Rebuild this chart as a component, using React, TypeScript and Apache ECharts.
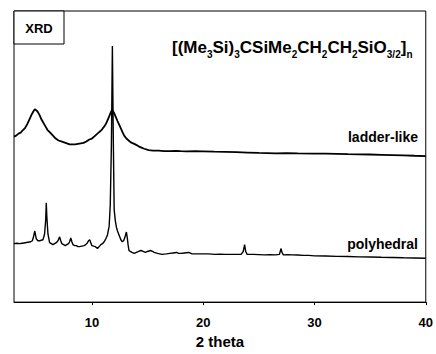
import React, { useEffect, useRef } from 'react';
import * as echarts from 'echarts';

const xTickValues = [10, 20, 30, 40];

const ladderLike: [number, number][] = [
  [3.0, 170], [3.2, 171], [3.4, 173], [3.6, 174], [3.83, 177], [4.0, 179], [4.2, 183],
  [4.4, 188], [4.6, 193], [4.75, 196], [4.87, 198], [5.0, 197], [5.1, 196], [5.3, 192],
  [5.45, 188], [5.6, 185], [5.8, 181], [6.0, 177], [6.25, 174], [6.5, 171], [6.75, 168],
  [7.0, 166], [7.25, 165], [7.5, 164], [7.75, 163], [8.0, 162], [8.25, 162], [8.5, 162],
  [8.75, 162.5], [9.0, 163], [9.25, 163.5], [9.5, 165], [9.77, 167], [10.0, 168],
  [10.2, 170], [10.4, 172], [10.6, 174], [10.8, 176], [10.95, 178], [11.15, 181],
  [11.3, 184], [11.45, 188], [11.6, 192], [11.7, 195], [11.8, 197], [11.9, 196],
  [12.0, 194], [12.15, 190], [12.3, 186], [12.5, 181], [12.73, 175], [12.9, 171],
  [13.1, 168], [13.3, 166], [13.5, 164], [13.7, 163], [13.9, 162], [14.2, 160],
  [14.4, 159], [14.7, 157.5], [15.1, 156], [15.5, 155.5], [16.0, 155.5], [16.5, 155],
  [17.0, 155], [17.5, 155.3], [18.0, 155], [18.5, 154.8], [19.3, 155], [20.0, 154.8],
  [21.0, 154.5], [22.0, 154.3], [23.0, 154], [24.0, 153.6], [25.0, 153.2], [26.5, 152.7],
  [27.5, 153], [28.5, 152.8], [30.0, 152.6], [31.0, 152.5], [32.0, 152.3], [33.0, 152],
  [34.0, 151.8], [35.0, 151.6], [36.0, 151.3], [37.0, 151], [38.0, 150.7], [39.0, 150.3],
  [40.0, 150]
];

const polyhedral: [number, number][] = [
  [3.0, 60], [3.25, 60.5], [3.5, 60], [3.75, 60.5], [4.0, 61], [4.25, 61.5], [4.5, 62],
  [4.65, 63], [4.75, 67], [4.87, 73], [5.0, 65], [5.15, 63], [5.3, 63], [5.45, 63.5],
  [5.6, 64], [5.75, 70], [5.85, 85], [5.9, 102], [5.95, 88], [6.05, 70], [6.2, 61],
  [6.35, 60], [6.5, 59], [6.65, 60], [6.8, 61], [6.95, 63], [7.1, 67], [7.2, 63],
  [7.3, 60], [7.45, 59], [7.6, 58], [7.75, 59], [7.9, 60], [8.0, 62], [8.1, 66],
  [8.2, 62], [8.3, 59], [8.45, 58], [8.6, 58], [8.75, 57], [8.9, 57], [9.1, 57.5],
  [9.3, 58], [9.45, 59], [9.6, 61], [9.7, 63], [9.8, 64], [9.9, 61], [10.0, 58],
  [10.15, 57.5], [10.3, 57], [10.4, 56], [10.5, 55], [10.65, 57], [10.8, 59], [10.95, 60],
  [11.1, 62], [11.25, 65], [11.4, 69], [11.55, 78], [11.65, 100], [11.75, 160],
  [11.84, 263], [11.92, 170], [12.0, 95], [12.1, 84], [12.2, 77], [12.3, 73], [12.4, 70],
  [12.5, 67], [12.6, 64], [12.73, 62], [12.85, 63], [12.95, 66], [13.05, 70], [13.1, 72],
  [13.18, 66], [13.25, 59], [13.33, 53], [13.45, 52], [13.6, 51], [13.8, 50], [14.0, 51],
  [14.2, 52], [14.4, 53], [14.6, 52], [14.8, 51], [15.0, 52], [15.26, 53], [15.45, 52],
  [15.6, 51], [15.9, 50], [16.3, 49], [16.7, 49.5], [17.0, 50], [17.3, 50.5], [17.6, 51],
  [17.8, 50], [18.0, 50], [18.3, 50.5], [18.7, 51], [19.0, 49.5], [19.5, 49.5], [20.0, 49.5],
  [20.5, 49.5], [21.05, 49], [21.5, 49.3], [22.0, 49], [22.5, 49], [23.0, 49], [23.4, 49],
  [23.6, 52], [23.72, 59], [23.82, 52], [23.95, 49], [24.5, 49], [25.0, 48.8], [25.5, 48.5],
  [26.0, 48.6], [26.5, 48.5], [26.85, 49], [26.95, 53], [27.0, 55], [27.08, 51],
  [27.2, 48.5], [27.6, 48.7], [28.0, 48.5], [28.5, 48.4], [29.0, 48], [29.5, 48],
  [30.0, 47.5], [31.0, 47.4], [32.0, 47], [33.0, 46.8], [34.0, 46.5], [35.0, 46.3],
  [36.0, 46], [37.0, 45.8], [38.0, 45.5], [39.0, 45.3], [40.0, 45]
];

const formulaText =
  '{m|[(Me}{s|3}{m|Si)}{s|3}{m|CSiMe}{s|2}{m|CH}{s|2}{m|CH}{s|2}{m|SiO}{s|3/2}{m|]}{s|n}';

export default function App() {
  const ref = useRef<HTMLDivElement>(null);
  useEffect(() => {
    const chart = echarts.init(ref.current!, null, { renderer: 'svg' });
    const fontFamily = 'Arial, "Liberation Sans", Helvetica, sans-serif';
    chart.setOption({
      animation: false,
      backgroundColor: '#fff',
      grid: {
        left: 14,
        right: 7,
        top: 11,
        bottom: 44,
        show: true,
        borderColor: '#000',
        borderWidth: 1,
        backgroundColor: 'transparent'
      },
      xAxis: {
        type: 'value',
        min: 3,
        max: 40,
        name: '2 theta',
        nameLocation: 'middle',
        nameGap: 30,
        nameTextStyle: { color: '#000', fontSize: 15, fontWeight: 'bold', fontFamily },
        axisLine: { show: true, lineStyle: { color: '#000', width: 1 } },
        axisTick: { show: true, length: 3, customValues: xTickValues, lineStyle: { color: '#000' } },
        axisLabel: {
          customValues: xTickValues,
          color: '#000',
          fontSize: 13,
          fontWeight: 'bold',
          fontFamily,
          margin: 14
        },
        splitLine: { show: false }
      },
      yAxis: {
        type: 'value',
        min: 0,
        max: 299,
        axisLine: { show: false },
        axisTick: { show: false },
        axisLabel: { show: false },
        splitLine: { show: false }
      },
      series: [
        {
          name: 'ladder-like',
          type: 'line',
          data: ladderLike,
          showSymbol: false,
          lineStyle: { color: '#000', width: 1.8 },
          z: 3
        },
        {
          name: 'polyhedral',
          type: 'line',
          data: polyhedral,
          showSymbol: false,
          lineStyle: { color: '#000', width: 1.4 },
          z: 3
        }
      ],
      graphic: [
        {
          type: 'rect',
          shape: { x: 14, y: 11, width: 50, height: 33 },
          style: { fill: '#fff', stroke: '#000', lineWidth: 1 },
          z: 10
        },
        {
          type: 'text',
          x: 39,
          y: 28,
          style: {
            text: 'XRD',
            fill: '#000',
            font: `bold 13px ${fontFamily}`,
            align: 'center',
            verticalAlign: 'middle'
          },
          z: 11
        },
        {
          type: 'text',
          x: 172,
          y: 47,
          style: {
            text: formulaText,
            fill: '#000',
            align: 'left',
            verticalAlign: 'middle',
            rich: {
              m: { fontSize: 17, fontWeight: 'bold', fontFamily, fill: '#000', lineHeight: 24, verticalAlign: 'middle' },
              s: { fontSize: 10, fontWeight: 'bold', fontFamily, fill: '#000', lineHeight: 10, verticalAlign: 'bottom' }
            }
          },
          z: 11
        },
        {
          type: 'text',
          x: 418,
          y: 137,
          style: {
            text: 'ladder-like',
            fill: '#000',
            font: `bold 14px ${fontFamily}`,
            align: 'right',
            verticalAlign: 'middle'
          },
          z: 11
        },
        {
          type: 'text',
          x: 418,
          y: 244,
          style: {
            text: 'polyhedral',
            fill: '#000',
            font: `bold 14px ${fontFamily}`,
            align: 'right',
            verticalAlign: 'middle'
          },
          z: 11
        }
      ]
    });
    return () => chart.dispose();
  }, []);
  return (
    <div
      ref={ref}
      style={{ position: 'fixed', left: 0, top: 0, width: 436, height: 354 }}
    />
  );
}
